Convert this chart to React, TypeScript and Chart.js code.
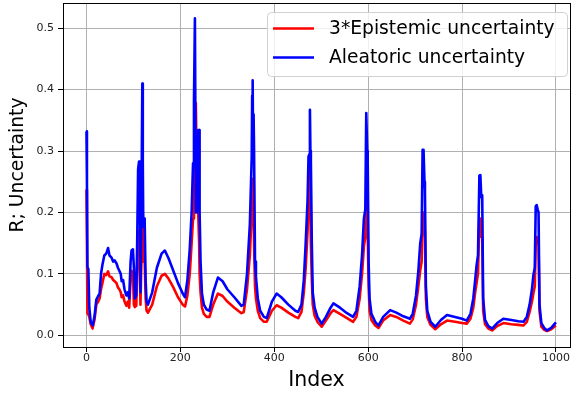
import React, { useEffect, useRef } from "react";
import { Chart, registerables } from "chart.js";
Chart.register(...registerables);

const indices = [0,1,2,4,6,9,13,17,21,25,28,31,34,38,42,46,49,53,57,60,64,67,70,73,75,78,81,85,88,91,94,96,99,101,103,106,108,110,112,114,115,117,119,120,121,123,124,126,128,131,140,150,160,167,175,185,195,205,210,215,220,224,227,229,231,233,235,237,238,240,241,243,246,250,256,262,270,280,290,300,315,330,335,342,348,352,353,354,355,356,357,359,361,365,370,378,384,395,405,415,430,445,451,458,463,467,471,473,475,476,477,478,480,482,486,492,501,510,520,526,540,555,568,575,582,587,591,594,596,598,599,601,603,607,615,622,632,647,660,675,689,695,702,707,711,714,716,718,720,721,723,726,733,743,755,768,785,800,810,818,824,828,831,834,837,839,841,843,845,849,856,864,875,888,905,920,931,938,944,949,952,955,957,959,961,963,965,969,975,981,990,1000];

const aleatoric = [0.332,0.25,0.111,0.108,0.045,0.022,0.016,0.03,0.058,0.064,0.068,0.1,0.115,0.13,0.133,0.142,0.13,0.127,0.12,0.122,0.117,0.11,0.105,0.1,0.088,0.09,0.075,0.065,0.07,0.06,0.12,0.138,0.14,0.11,0.06,0.065,0.15,0.27,0.283,0.2,0.07,0.2,0.41,0.28,0.177,0.19,0.185,0.09,0.055,0.05,0.07,0.11,0.133,0.138,0.125,0.105,0.085,0.068,0.062,0.09,0.14,0.2,0.28,0.38,0.516,0.2,0.2,0.25,0.334,0.334,0.2,0.12,0.068,0.05,0.042,0.04,0.07,0.094,0.088,0.075,0.062,0.048,0.05,0.1,0.18,0.29,0.39,0.415,0.3,0.36,0.3,0.12,0.095,0.06,0.04,0.03,0.028,0.055,0.068,0.062,0.05,0.04,0.038,0.05,0.09,0.15,0.22,0.291,0.295,0.367,0.3,0.285,0.15,0.07,0.045,0.03,0.019,0.03,0.045,0.052,0.045,0.036,0.03,0.04,0.08,0.13,0.19,0.205,0.362,0.3,0.29,0.12,0.06,0.035,0.022,0.016,0.03,0.041,0.037,0.031,0.027,0.035,0.065,0.105,0.15,0.165,0.302,0.302,0.25,0.237,0.08,0.04,0.022,0.014,0.025,0.033,0.03,0.027,0.024,0.035,0.06,0.09,0.114,0.13,0.26,0.261,0.225,0.228,0.06,0.025,0.015,0.011,0.02,0.027,0.025,0.023,0.022,0.03,0.05,0.075,0.098,0.11,0.21,0.212,0.205,0.2,0.05,0.02,0.012,0.008,0.012,0.021];

const epistemic3 = [0.237,0.15,0.036,0.034,0.03,0.018,0.011,0.025,0.05,0.055,0.06,0.075,0.085,0.1,0.098,0.104,0.096,0.095,0.09,0.088,0.085,0.078,0.075,0.07,0.062,0.065,0.055,0.048,0.055,0.045,0.09,0.105,0.1,0.05,0.046,0.048,0.1,0.15,0.17,0.1,0.05,0.12,0.2,0.15,0.12,0.13,0.12,0.06,0.04,0.037,0.05,0.08,0.097,0.1,0.092,0.078,0.062,0.05,0.047,0.065,0.1,0.15,0.19,0.25,0.33,0.378,0.26,0.258,0.2,0.15,0.1,0.07,0.045,0.035,0.03,0.03,0.05,0.068,0.064,0.055,0.045,0.036,0.038,0.075,0.13,0.2,0.23,0.255,0.22,0.19,0.15,0.08,0.06,0.04,0.028,0.022,0.022,0.04,0.049,0.045,0.037,0.03,0.028,0.038,0.07,0.11,0.17,0.22,0.275,0.27,0.2,0.15,0.09,0.05,0.032,0.022,0.014,0.024,0.036,0.041,0.035,0.028,0.022,0.03,0.06,0.1,0.145,0.16,0.22,0.2,0.17,0.08,0.04,0.025,0.016,0.012,0.024,0.033,0.03,0.024,0.019,0.026,0.05,0.08,0.106,0.12,0.2,0.2,0.17,0.16,0.06,0.03,0.017,0.01,0.018,0.024,0.022,0.02,0.019,0.027,0.045,0.07,0.085,0.1,0.19,0.19,0.16,0.16,0.04,0.018,0.011,0.008,0.015,0.02,0.018,0.017,0.016,0.022,0.038,0.055,0.068,0.08,0.15,0.16,0.15,0.15,0.04,0.014,0.009,0.007,0.01,0.016];

const xTicks = [0, 200, 400, 600, 800, 1000];
const yTicks = [0, 0.1, 0.2, 0.3, 0.4, 0.5];
const seriesLabels = ["3*Epistemic uncertainty", "Aleatoric uncertainty"];
const seriesColors = ["#ff0000", "#0000ff"];
const xTitle = "Index";
const yTitle = "R; Uncertainty";

const FONT = "'DejaVu Sans', sans-serif";

export default function App() {
  const ref = useRef<HTMLCanvasElement>(null);
  useEffect(() => {
    const canvas = ref.current;
    if (!canvas) return;

    const framePlugin = {
      id: "frame",
      afterDatasetsDraw(chart: any) {
        const { ctx, chartArea } = chart;
        ctx.save();
        ctx.strokeStyle = "#000";
        ctx.lineWidth = 1;
        ctx.strokeRect(
          Math.round(chartArea.left) + 0.5,
          Math.round(chartArea.top) + 0.5,
          Math.round(chartArea.right - chartArea.left),
          Math.round(chartArea.bottom - chartArea.top)
        );
        ctx.restore();
      },
    };

    const legendPlugin = {
      id: "boxLegend",
      afterDraw(chart: any) {
        const ctx = chart.ctx;
        ctx.save();
        ctx.translate(18, 165);
        ctx.rotate(-Math.PI / 2);
        ctx.font = `18.8px ${FONT}`;
        ctx.fillStyle = "#000";
        ctx.textAlign = "center";
        ctx.textBaseline = "middle";
        ctx.fillText(yTitle, 0, 0);
        ctx.restore();

        ctx.save();
        const x0 = 267.5, y0 = 12.5, w = 300, h = 64;
        ctx.beginPath();
        (ctx as any).roundRect(x0, y0, w, h, 4);
        ctx.fillStyle = "rgba(255,255,255,0.8)";
        ctx.fill();
        ctx.strokeStyle = "rgba(204,204,204,0.9)";
        ctx.lineWidth = 1;
        ctx.stroke();
        const rows = [28.5, 57.5];
        for (let i = 0; i < 2; i++) {
          ctx.strokeStyle = seriesColors[i];
          ctx.lineWidth = 2.6;
          ctx.beginPath();
          ctx.moveTo(273, rows[i]);
          ctx.lineTo(314, rows[i]);
          ctx.stroke();
          ctx.fillStyle = "#000";
          ctx.font = `18.7px ${FONT}`;
          ctx.textBaseline = "middle";
          ctx.textAlign = "left";
          ctx.fillText(seriesLabels[i], 329, rows[i] + 1);
        }
        ctx.restore();
      },
    };

    const chart = new Chart(canvas, {
      type: "line",
      data: {
        datasets: [
          {
            label: seriesLabels[1],
            data: indices.map((x, i) => ({ x, y: aleatoric[i] })),
            borderColor: seriesColors[1],
            borderWidth: 2.6,
            pointRadius: 0,
            tension: 0,
            fill: false,
            borderJoinStyle: "round",
          },
          {
            label: seriesLabels[0],
            data: indices.map((x, i) => ({ x, y: epistemic3[i] })),
            borderColor: seriesColors[0],
            borderWidth: 2.6,
            pointRadius: 0,
            tension: 0,
            fill: false,
            borderJoinStyle: "round",
          },
        ],
      },
      options: {
        responsive: false,
        animation: false,
        events: [],
        layout: { padding: { top: 3, right: 5, bottom: 0, left: 0 } },
        plugins: { legend: { display: false }, tooltip: { enabled: false } },
        scales: {
          x: {
            type: "linear",
            min: -50,
            max: 1030,
            afterBuildTicks: (s: any) => {
              s.ticks = xTicks.map((v) => ({ value: v }));
            },
            afterFit: (s: any) => {
              s.height = 51;
              s.paddingLeft = 0;
              s.paddingRight = 0;
            },
            ticks: {
              font: { family: FONT, size: 11 },
              color: "#222",
              padding: 0,
              maxRotation: 0,
              callback: (v: any) => String(v),
            },
            grid: {
              color: "#b0b0b0",
              lineWidth: 1,
              tickLength: 5,
              tickColor: "#000",
              drawTicks: true,
            },
            border: { color: "#000", width: 1 },
            title: {
              display: true,
              text: xTitle,
              font: { family: FONT, size: 20.5 },
              color: "#000",
              padding: { top: 0, bottom: 5 },
            },
          },
          y: {
            type: "linear",
            min: -0.019,
            max: 0.541,
            afterBuildTicks: (s: any) => {
              s.ticks = yTicks.map((v) => ({ value: v }));
            },
            afterFit: (s: any) => {
              s.width = 63;
              s.paddingTop = 0;
              s.paddingBottom = 0;
            },
            ticks: {
              font: { family: FONT, size: 11 },
              color: "#222",
              padding: 4,
              callback: (v: any) => Number(v).toFixed(1),
            },
            grid: {
              color: "#b0b0b0",
              lineWidth: 1,
              tickLength: 5,
              tickColor: "#000",
              drawTicks: true,
            },
            border: { color: "#000", width: 1 },
            title: { display: false },
          },
        },
      },
      plugins: [framePlugin, legendPlugin],
    });
    return () => chart.destroy();
  }, []);

  return (
    <div style={{ position: "absolute", left: 0, top: 0, width: 575, height: 398, background: "#fff" }}>
      <canvas ref={ref} width={575} height={398} style={{ display: "block", width: 575, height: 398 }} />
    </div>
  );
}
